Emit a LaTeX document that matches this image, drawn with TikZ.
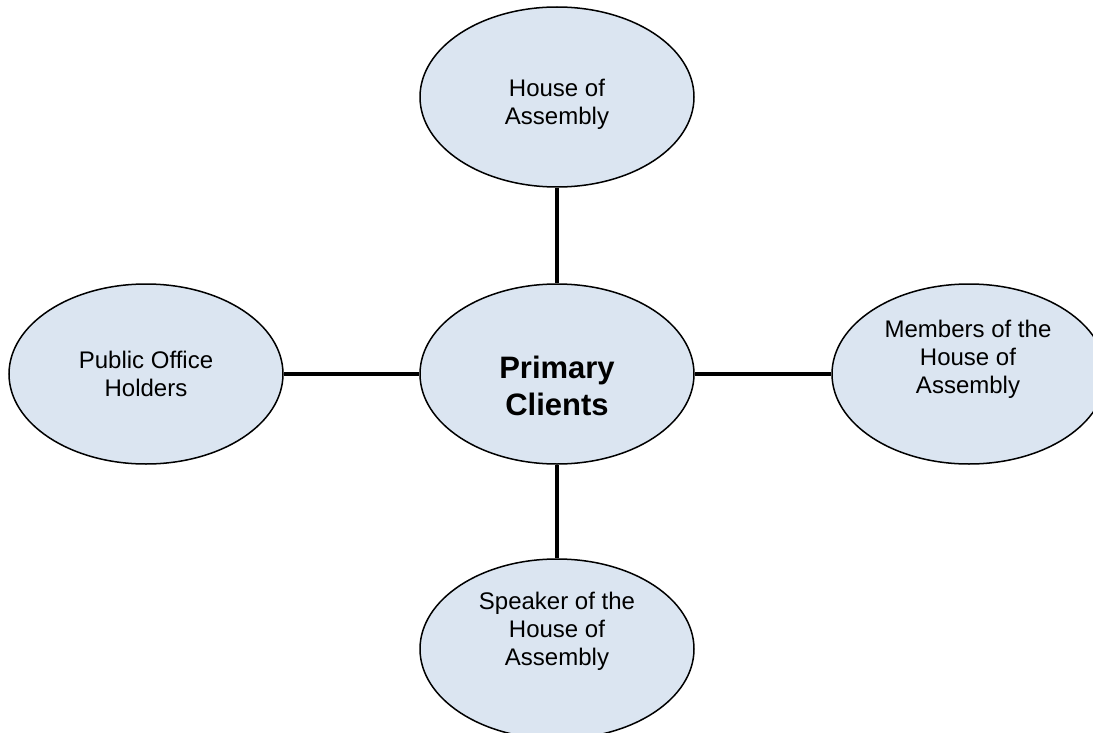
\documentclass[tikz,border=0pt]{standalone}
\usepackage{fontspec}
\setmainfont{Liberation Sans}
\usetikzlibrary{calc,shapes.geometric}
\definecolor{clientblue}{HTML}{DBE5F1}

\begin{document}
\begin{tikzpicture}[x=0.5pt,y=-0.5pt,-,line width=2.4pt,client node/.style={ellipse,draw,line width=0.75pt,fill=clientblue,minimum width=137pt,minimum height=90pt,inner sep=0pt},client text/.style={align=center,font=\fontsize{12}{14}\selectfont}]

    \useasboundingbox[fill=white] (0,0) rectangle (1093,733);

    \node (1) at (557,374) [client node]{};

    \node (2) at ($(1)+(0,-277)$) [client node]{};
    \node (3) at ($(1)+(-411,0)$) [client node]{};
    \node (4) at ($(1)+(412,0)$) [client node]{};
    \node (5) at ($(1)+(0,275)$) [client node]{};

    \node (1t) at ($(1)+(0,12)$) [align=center,font=\fontsize{15.5}{18.5}\selectfont\bfseries]{Primary\\Clients};
    \node (2t) at ($(2)+(0,7)$) [client text]{House of\\Assembly};
    \node (3t) at (3) [client text]{Public Office\\Holders};
    \node (4t) at ($(4)+(-1,-15)$) [client text]{Members of the\\House of\\Assembly};
    \node (5t) at ($(5)+(0,-18)$) [client text]{Speaker of the\\House of\\Assembly};

    \path
        (2) edge (1)
        (3) edge (1)
        (4) edge (1)
        (5) edge (1)
    ;
\end{tikzpicture}
\end{document}
